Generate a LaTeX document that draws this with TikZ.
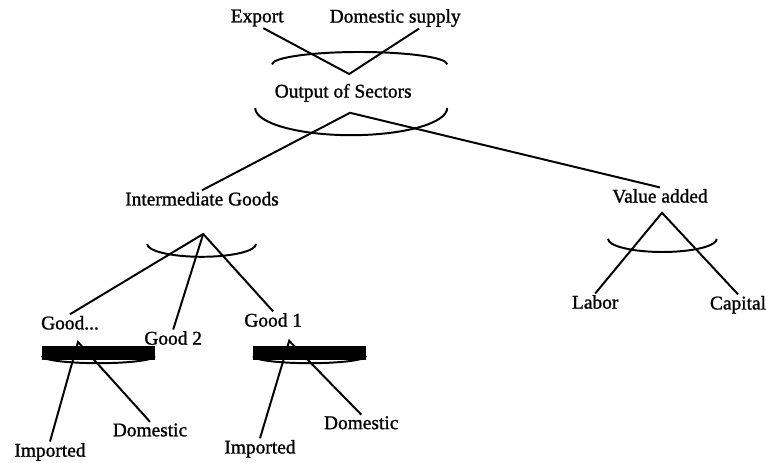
\documentclass[tikz,border=0pt]{standalone}
\usepackage{fontspec}
\setmainfont[FakeBold=1.2]{Liberation Serif}
\usepackage{tikz}
\usetikzlibrary{calc}
\tikzset{
  lbl/.style={inner sep=1pt, font=\fontsize{13.8}{16}\selectfont},
  edge/.style={line width=1.4pt},
  nest/.style={line width=1.4pt},
  bar/.style={fill=black, draw=none},
}
\begin{document}
\begin{tikzpicture}
  \useasboundingbox (0,0) rectangle (19.15,11.55);

  % --- Top: output of sectors ---
  \node[lbl] (Exp) at (6.43,11.10) {Export};
  \node[lbl] (Dsup) at (9.88,11.10) {Domestic supply};
  \node[lbl] (Out) at (8.58,9.23) {Output of Sectors};

  \coordinate (vtop) at (8.73,9.7);
  \coordinate (vout) at (8.75,8.73);

  \draw[edge] ([xshift=0.15cm]Exp.south) -- (vtop) -- ([xshift=0.6cm]Dsup.south);
  \draw[nest] (6.80,9.94) arc[start angle=180, end angle=0, x radius=2.19, y radius=0.31];
  \draw[nest] (6.38,8.85) arc[start angle=180, end angle=360, x radius=2.4, y radius=0.68];

  % --- Middle: intermediate goods and value added ---
  \node[lbl] (Int) at (5.05,6.58) {Intermediate Goods};
  \node[lbl] (Va) at (16.5,6.65) {Value added};

  \draw[edge] (Int.north) -- (vout) -- (Va.north);

  \coordinate (vint) at (5.08,5.7);
  \coordinate (vva) at (16.55,6.23);

  \node[lbl] (Gd) at (1.75,3.48) {Good...};
  \node[lbl] (G2) at (4.33,3.10) {Good 2};
  \node[lbl] (G1) at (6.83,3.55) {Good 1};
  \node[lbl] (Lab) at (14.88,4.0) {Labor};
  \node[lbl] (Cap) at (18.45,3.93) {Capital};

  \draw[edge] (Gd.north) -- (vint) -- (G1.north);
  \draw[edge] (vint) -- (G2.north);
  \draw[nest] (3.68,5.45) arc[start angle=180, end angle=360, x radius=1.36, y radius=0.32];

  \draw[edge] (Lab.north) -- (vva) -- (Cap.north);
  \draw[nest] (15.2,5.58) arc[start angle=180, end angle=360, x radius=1.36, y radius=0.33];

  % --- Bottom: imported vs domestic ---
  \node[lbl] (Imp1) at (1.25,0.25) {Imported};
  \node[lbl] (Dom1) at (3.75,0.80) {Domestic};
  \node[lbl] (Imp2) at (6.50,0.33) {Imported};
  \node[lbl] (Dom2) at (9.03,0.98) {Domestic};

  \coordinate (vg) at (1.95,3.0);
  \coordinate (vg1) at (7.23,3.03);

  \draw[edge] (Imp1.north) -- (vg) -- (Dom1.north);
  \draw[edge] (Imp2.north) -- (vg1) -- (Dom2.north);
  \draw[nest] (1.05,2.65) arc[start angle=180, end angle=360, x radius=1.41, y radius=0.18];
  \draw[nest] (6.33,2.65) arc[start angle=180, end angle=360, x radius=1.41, y radius=0.18];

  % black bars
  \fill[bar] (1.05,2.55) rectangle (3.88,2.9);
  \fill[bar] (6.33,2.55) rectangle (9.15,2.9);
\end{tikzpicture}
\end{document}
